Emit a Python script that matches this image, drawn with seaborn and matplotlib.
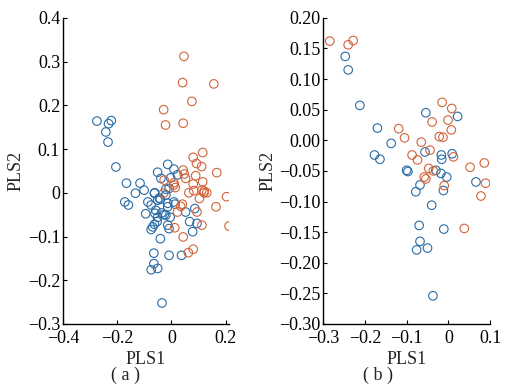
import matplotlib
matplotlib.use('Agg')
import matplotlib.pyplot as plt
import seaborn as sns
import pandas as pd

# (a) scores, blue class
a_blue_x = [-0.275, -0.222, -0.232, -0.242, -0.234, -0.205, -0.166, -0.116, -0.101, -0.133,
            -0.062, -0.051, -0.014, 0.009, -0.039, -0.003, 0.022, -0.021, -0.009,
            -0.172, -0.159, -0.063, -0.051, -0.041, -0.087, -0.075, -0.021, -0.014, -0.014,
            0.009, 0.013, -0.061, -0.036, -0.027, -0.021, -0.051, -0.005, -0.053, -0.063,
            -0.069, -0.075, -0.014, -0.009, 0.052, 0.067, 0.094, 0.086, 0.078, -0.041,
            -0.065, -0.009, 0.037, -0.065, -0.075, -0.051, -0.035, -0.058, -0.045, -0.095]
a_blue_y = [0.164, 0.165, 0.158, 0.139, 0.116, 0.059, 0.022, 0.022, 0.006, -0.001,
            0.000, 0.047, 0.065, 0.054, 0.033, 0.034, 0.041, 0.008, 0.010,
            -0.021, -0.028, -0.001, -0.017, -0.015, -0.021, -0.028, -0.005, -0.024, -0.032,
            -0.021, -0.026, -0.047, -0.046, -0.050, -0.051, -0.056, -0.056, -0.066, -0.072,
            -0.078, -0.084, -0.074, -0.082, -0.044, -0.066, -0.070, -0.036, -0.089, -0.105,
            -0.138, -0.143, -0.143, -0.162, -0.176, -0.173, -0.252, -0.040, -0.012, -0.048]

# (a) scores, orange class
a_orange_x = [0.046, 0.041, 0.156, 0.075, -0.029, -0.022, 0.043, 0.115, 0.080, 0.092,
              0.111, 0.167, 0.043, 0.047, 0.052, 0.089, 0.115, 0.080, -0.027, 0.009,
              0.064, 0.082, 0.112, 0.120, 0.130, 0.203, 0.034, 0.040, 0.022, 0.094,
              0.012, 0.112, 0.043, 0.062, 0.080, 0.212, 0.164, 0.103, 0.009, -0.029,
              0.014, 0.120]
a_orange_y = [0.312, 0.252, 0.249, 0.209, 0.190, 0.155, 0.159, 0.092, 0.081, 0.067,
              0.060, 0.046, 0.052, 0.043, 0.033, 0.039, 0.025, 0.020, 0.029, 0.023,
              0.000, 0.005, 0.006, 0.000, 0.000, -0.009, -0.031, -0.026, -0.044, -0.044,
              -0.080, -0.074, -0.101, -0.137, -0.129, -0.076, -0.032, -0.013, 0.018, -0.001,
              0.012, 0.004]

# (b) scores, blue class
b_blue_x = [-0.247, -0.240, -0.212, -0.170, -0.137, -0.177, -0.164, -0.054, 0.022, -0.056,
            -0.017, -0.016, 0.009, -0.100, -0.097, -0.030, -0.018, -0.004, 0.066, -0.068,
            -0.078, -0.012, -0.040, -0.070, -0.011, -0.068, -0.076, -0.050, -0.037]
b_blue_y = [0.137, 0.115, 0.057, 0.020, -0.005, -0.024, -0.031, 0.045, 0.039, -0.019,
            -0.024, -0.031, -0.022, -0.049, -0.051, -0.049, -0.054, -0.060, -0.068, -0.073,
            -0.084, -0.082, -0.106, -0.139, -0.145, -0.165, -0.179, -0.176, -0.254]

# (b) scores, orange class
b_orange_x = [-0.284, -0.240, -0.228, -0.119, -0.105, -0.015, 0.008, -0.001, -0.039, 0.007,
              -0.022, -0.013, -0.065, -0.087, -0.074, -0.044, 0.012, -0.047, -0.036, -0.058,
              -0.054, 0.052, 0.086, 0.089, -0.010, 0.078, 0.038]
b_orange_y = [0.162, 0.156, 0.163, 0.019, 0.004, 0.062, 0.052, 0.033, 0.030, 0.017,
              0.006, 0.005, -0.003, -0.024, -0.032, -0.016, -0.027, -0.046, -0.050, -0.060,
              -0.063, -0.044, -0.037, -0.070, -0.074, -0.091, -0.144]

blue = '#2a6ca6'
orange = '#d2643a'

sns.set_style('ticks')
plt.rcParams['font.family'] = ['Liberation Serif', 'DejaVu Serif']
plt.rcParams['xtick.direction'] = 'in'
plt.rcParams['ytick.direction'] = 'in'

fig = plt.figure(figsize=(5.22, 3.88), dpi=100)
axA = fig.add_axes([0.1207, 0.165, 0.318, 0.789])
axB = fig.add_axes([0.619, 0.165, 0.320, 0.789])

panels = [
    (axA, a_blue_x, a_blue_y, a_orange_x, a_orange_y),
    (axB, b_blue_x, b_blue_y, b_orange_x, b_orange_y),
]
for ax, bx, by, ox, oy in panels:
    sns.scatterplot(x=bx, y=by, ax=ax, marker='o', s=38, facecolor='none',
                    edgecolor=blue, linewidth=0.8)
    sns.scatterplot(x=ox, y=oy, ax=ax, marker='o', s=38, facecolor='none',
                    edgecolor=orange, linewidth=0.8)
    sns.despine(ax=ax)
    ax.tick_params(labelsize=13, length=3, width=0.8, colors='black')
    ax.tick_params(axis='x', pad=4)
    ax.tick_params(axis='y', pad=2)
    for s in ['left', 'bottom']:
        ax.spines[s].set_linewidth(1.0)
        ax.spines[s].set_color('black')
    ax.set_xlabel('PLS1', fontsize=13, labelpad=3)
    ax.set_ylabel('PLS2', fontsize=13, labelpad=2)

axA.set_xlim(-0.4, 0.212)
axA.set_ylim(-0.3, 0.4)
axA.set_xticks([-0.4, -0.2, 0, 0.2])
axA.set_xticklabels(['\u22120.4', '\u22120.2', '0', '0.2'])
axA.set_yticks([-0.3, -0.2, -0.1, 0, 0.1, 0.2, 0.3, 0.4])
axA.set_yticklabels(['\u22120.3', '\u22120.2', '\u22120.1', '0', '0.1', '0.2', '0.3', '0.4'])

axB.set_xlim(-0.3, 0.1)
axB.set_ylim(-0.3, 0.2)
axB.set_xticks([-0.3, -0.2, -0.1, 0, 0.1])
axB.set_xticklabels(['\u22120.3', '\u22120.2', '\u22120.1', '0', '0.1'])
yb = [-0.3, -0.25, -0.2, -0.15, -0.1, -0.05, 0, 0.05, 0.1, 0.15, 0.2]
axB.set_yticks(yb)
axB.set_yticklabels([('%.2f' % v).replace('-', '\u2212') for v in yb])

fig.text(0.2395, 0.02, '( a )', ha='center', fontsize=13)
fig.text(0.725, 0.02, '( b )', ha='center', fontsize=13)

fig.savefig('out.png', dpi=100)
